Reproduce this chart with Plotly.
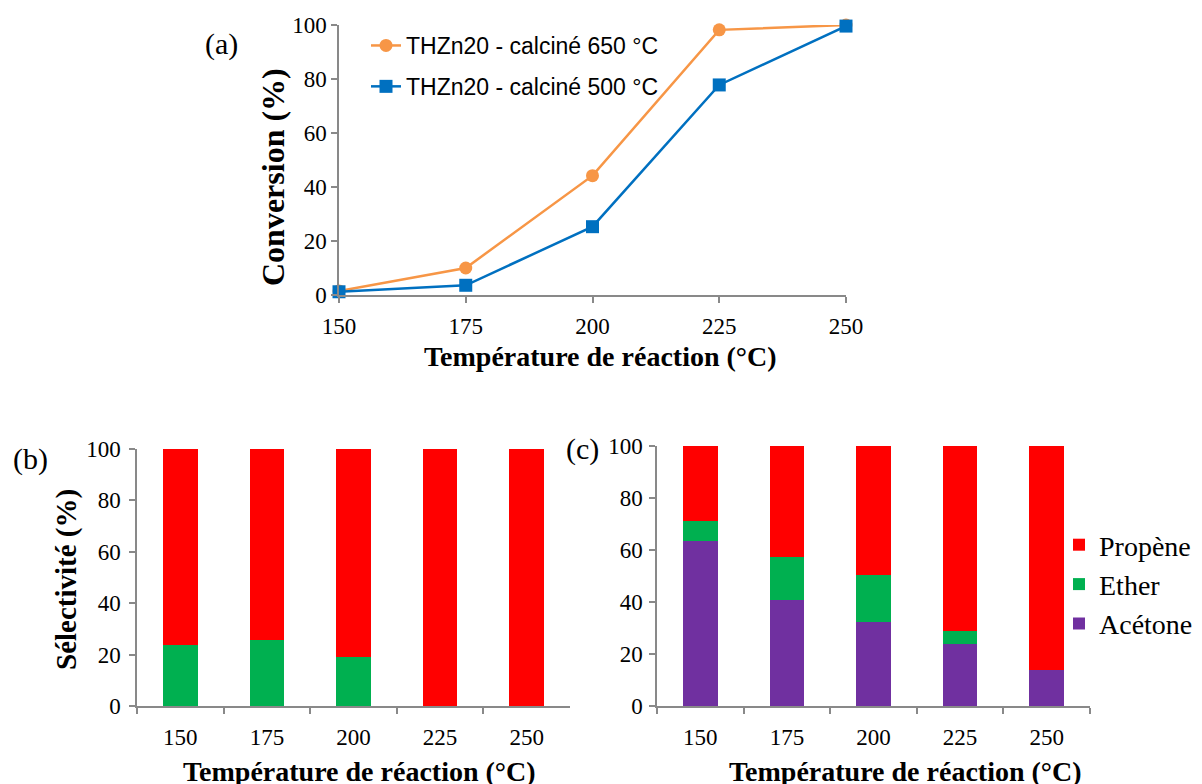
import plotly.graph_objects as go

W, H = 1202, 784
OFF = 8  # page body margin offset

# ---- data ----
temps = [150, 175, 200, 225, 250]
conv_650 = [1.5, 10.0, 44.2, 98.2, 100.0]
conv_500 = [1.2, 3.6, 25.3, 77.8, 99.6]

cats = ["150", "175", "200", "225", "250"]
b_ether = [23.9, 25.7, 19.0, 0.0, 0.0]
b_propene = [76.1, 74.3, 81.0, 100.0, 100.0]

c_acetone = [63.5, 40.8, 32.3, 23.8, 14.0]
c_ether = [7.8, 16.6, 18.0, 4.9, 0.0]
c_propene = [28.7, 42.6, 49.7, 71.3, 86.0]

ORANGE = "#F79646"
BLUE = "#0070C0"
RED = "#FF0000"
GREEN = "#00B050"
PURPLE = "#7030A0"
AX = "#898989"
SERIF = "Liberation Serif"
SANS = "Liberation Sans"


def px(x):
    return (x - OFF) / W


def py(y):
    return 1 - (y - OFF) / H


fig = go.Figure()

# (a) conversion lines
fig.add_trace(go.Scatter(x=temps, y=conv_650, mode="lines+markers",
                         name="THZn20 - calciné 650 °C",
                         line=dict(color=ORANGE, width=2.5),
                         marker=dict(symbol="circle", size=13, color=ORANGE),
                         xaxis="x", yaxis="y", cliponaxis=False,
                         legend="legend", legendgroup="a1"))
fig.add_trace(go.Scatter(x=temps, y=conv_500, mode="lines+markers",
                         name="THZn20 - calciné 500 °C",
                         line=dict(color=BLUE, width=2.5),
                         marker=dict(symbol="square", size=13, color=BLUE),
                         xaxis="x", yaxis="y", cliponaxis=False,
                         legend="legend", legendgroup="a2"))

# (b) selectivity bars
fig.add_trace(go.Bar(x=cats, y=b_ether, name="Ether", marker_color=GREEN,
                     marker_line_width=0,
                     width=0.4, xaxis="x2", yaxis="y2", showlegend=False))
fig.add_trace(go.Bar(x=cats, y=b_propene, name="Propène", marker_color=RED,
                     marker_line_width=0,
                     width=0.4, xaxis="x2", yaxis="y2", showlegend=False))

# (c) selectivity bars
fig.add_trace(go.Bar(x=cats, y=c_acetone, name="Acétone", marker_color=PURPLE,
                     marker_line_width=0,
                     width=0.4, xaxis="x3", yaxis="y3", legend="legend2",
                     legendgroup="c3"))
fig.add_trace(go.Bar(x=cats, y=c_ether, name="Ether", marker_color=GREEN,
                     marker_line_width=0,
                     width=0.4, xaxis="x3", yaxis="y3", legend="legend2",
                     legendgroup="c2"))
fig.add_trace(go.Bar(x=cats, y=c_propene, name="Propène", marker_color=RED,
                     marker_line_width=0,
                     width=0.4, xaxis="x3", yaxis="y3", legend="legend2",
                     legendgroup="c1"))

tickfont = dict(family=SERIF, size=23, color="#000000")
common = dict(showgrid=False, zeroline=False, showline=True, linecolor=AX,
              linewidth=1.5, ticks="outside", tickcolor=AX, tickwidth=1.5,
              ticklen=6, tickfont=tickfont, automargin=False)

fig.update_layout(
    template="none",
    width=W, height=H,
    margin=dict(l=0, r=0, t=0, b=0, pad=0),
    paper_bgcolor="white", plot_bgcolor="white",
    font=dict(family=SERIF, color="#000000"),
    barmode="stack",
    xaxis=dict(domain=[px(339), px(846)], range=[150, 250],
               tickvals=temps, ticklabelstandoff=4, anchor="y", **common),
    yaxis=dict(domain=[py(295), py(25)], range=[0, 100], dtick=20,
               ticklabelstandoff=0, anchor="x", **common),
    xaxis2=dict(domain=[px(137), px(570)], type="category",
                range=[-0.5, 4.5], tickson="boundaries",
                ticklabelstandoff=10, anchor="y2", **common),
    yaxis2=dict(domain=[py(706), py(449)], range=[0, 100], dtick=20,
                ticklabelstandoff=4, anchor="x2", **common),
    xaxis3=dict(domain=[px(657), px(1090)], type="category",
                range=[-0.5, 4.5], tickson="boundaries",
                ticklabelstandoff=10, anchor="y3", **common),
    yaxis3=dict(domain=[py(706), py(446)], range=[0, 100], dtick=20,
                ticklabelstandoff=2, anchor="x3", **common),
    legend=dict(x=px(366), y=py(24), xanchor="left", yanchor="top",
                bgcolor="rgba(0,0,0,0)", tracegroupgap=8,
                font=dict(family=SANS, size=23, color="#000000")),
    legend2=dict(x=px(1059), y=py(520), xanchor="left", yanchor="top",
                 bgcolor="rgba(0,0,0,0)", traceorder="reversed",
                 tracegroupgap=11,
                 font=dict(family=SERIF, size=28, color="#000000")),
)

ann = []
title_font = dict(family=SERIF, size=28, color="#000000")
ann.append(dict(text="<b>Température de réaction (°C)</b>", x=px(600), y=py(356),
                font=title_font))
ann.append(dict(text="<b>Conversion (%)</b>", x=px(273), y=py(177),
                textangle=-90, font=dict(family=SERIF, size=32, color="#000000")))
ann.append(dict(text="<b>Température de réaction (°C)</b>", x=px(359), y=py(771),
                font=title_font))
ann.append(dict(text="<b>Température de réaction (°C)</b>", x=px(905), y=py(771),
                font=title_font))
ann.append(dict(text="<b>Sélectivité (%)</b>", x=px(66), y=py(580),
                textangle=-90, font=dict(family=SERIF, size=29, color="#000000")))
panel_font = dict(family=SERIF, size=30, color="#000000")
ann.append(dict(text="(a)", x=px(221), y=py(44), font=panel_font))
ann.append(dict(text="(b)", x=px(30), y=py(459), font=panel_font))
ann.append(dict(text="(c)", x=px(582), y=py(449), font=panel_font))
for a in ann:
    a.update(xref="paper", yref="paper", showarrow=False,
             xanchor="center", yanchor="middle")
fig.update_layout(annotations=ann)

fig.write_html("out.html")
